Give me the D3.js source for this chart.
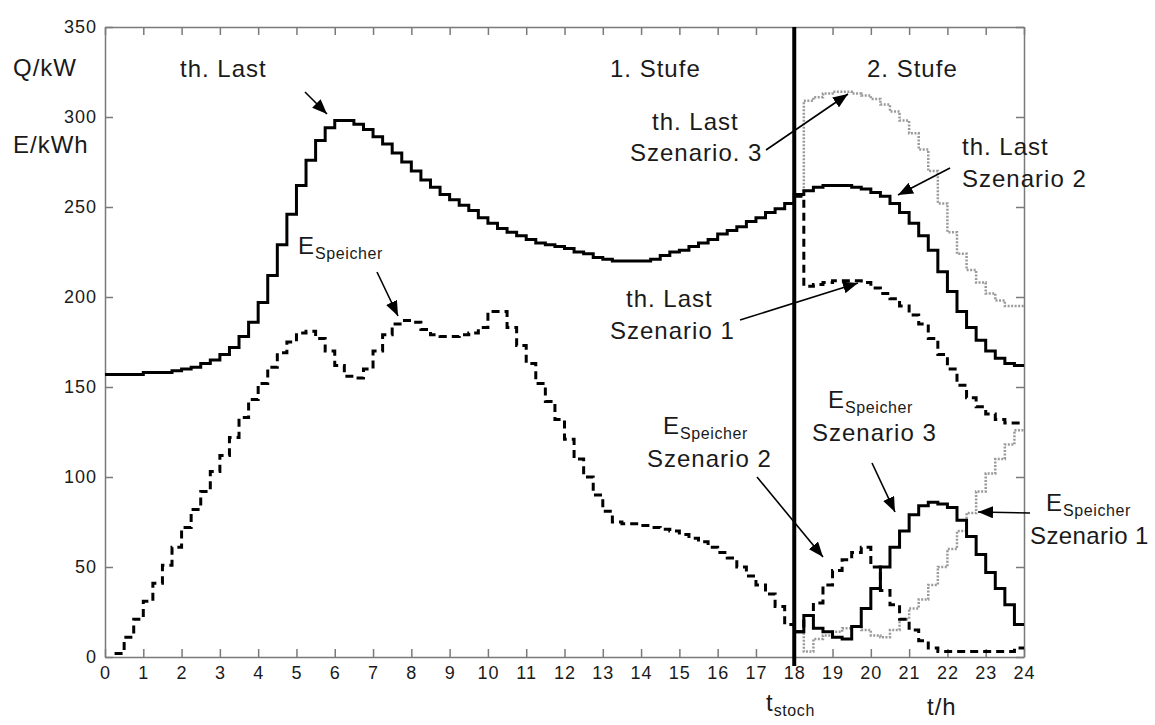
<!DOCTYPE html>
<html>
<head>
<meta charset="utf-8">
<title>th. Last und E Speicher</title>
<script src="https://cdn.jsdelivr.net/npm/d3@7"></script>
<style>
    body { margin: 0; background: #fff; }
    text { font-family: "Liberation Sans", Arial, sans-serif; fill: #1a1a1a; }
</style>
</head>
<body>
<svg id="chart" width="1155" height="725"></svg>
<script>
// Viertelstunden-Werte
const step = 0.25;
const xTicks = [0, 1, 2, 3, 4, 5, 6, 7, 8, 9, 10, 11, 12, 13, 14, 15, 16, 17, 18, 19, 20, 21, 22, 23, 24];
const yTicks = [0, 50, 100, 150, 200, 250, 300, 350];
const tStoch = 18;

// th. Last, 1. Stufe (ab 0 h)
const lastStufe1 = [
    157, 157, 157, 157, 158, 158, 158, 159, 160, 161, 163, 165,
    168, 172, 178, 186, 197, 212, 229, 246, 262, 276, 287, 294,
    298, 298, 296, 293, 289, 285, 280, 275, 270, 265, 261, 257,
    254, 251, 248, 244, 241, 238, 236, 234, 232, 230, 229, 228,
    227, 225, 224, 222, 221, 220, 220, 220, 220, 221, 223, 225,
    226, 228, 230, 232, 235, 237, 239, 242, 244, 247, 249, 252
];
// th. Last, 2. Stufe (ab 18 h)
const lastSzen1 = [256, 206, 207, 208, 209, 209, 209, 208, 205, 202, 199, 195,
                   190, 185, 177, 168, 160, 151, 144, 139, 135, 132, 130, 130];
const lastSzen2 = [257, 259, 261, 262, 262, 262, 261, 260, 258, 256, 252, 247,
                   241, 234, 226, 214, 203, 192, 183, 176, 170, 166, 163, 162];
const lastSzen3 = [256, 309, 311, 313, 314, 314, 313, 312, 310, 307, 303, 298,
                   291, 282, 270, 252, 236, 224, 215, 208, 202, 198, 195, 195];

// E Speicher, 1. Stufe (ab 0.25 h)
const speicherStufe1 = [
    2, 11, 21, 31, 41, 51, 61, 72, 82, 92, 103, 112,
    122, 133, 143, 152, 161, 169, 175, 180, 181, 177, 170, 162,
    156, 155, 160, 170, 179, 185, 187, 186, 182, 179, 178, 178,
    179, 180, 183, 192, 192, 183, 173, 163, 152, 142, 132, 121,
    110, 100, 90, 81, 75, 74, 74, 73, 72, 71, 70, 68,
    66, 64, 61, 58, 55, 50, 45, 40, 35, 28, 18
];
// E Speicher, 2. Stufe (ab 18 h)
const speicherSzen1 = [14, 3, 10, 12, 14, 16, 17, 15, 12, 11, 15, 21,
                       27, 32, 40, 50, 60, 70, 80, 92, 102, 110, 118, 126];
const speicherSzen2 = [14, 23, 30, 40, 48, 54, 58, 61, 50, 37, 29, 21,
                       15, 9, 5, 3, 3, 3, 3, 3, 3, 3, 3, 5];
const speicherSzen3 = [14, 23, 16, 14, 11, 10, 17, 27, 38, 50, 61, 70,
                       79, 84, 86, 85, 83, 76, 67, 57, 47, 38, 29, 18];

const svg = d3.select("#chart");
const x = d3.scaleLinear().domain([0, 24]).range([105, 1024]);
const y = d3.scaleLinear().domain([0, 350]).range([657, 27]);

function stairs(vals, t0) {
    const p = vals.map((v, i) => [t0 + i * step, v]);
    p.push([t0 + vals.length * step, vals[vals.length - 1]]);
    return p;
}
const line = d3.line().x(d => x(d[0])).y(d => y(d[1])).curve(d3.curveStepAfter);

// Achsen
const axisColor = "#7a7a7a";
function styleAxis(g) {
    g.selectAll("path, line").attr("stroke", axisColor).attr("stroke-width", 1.5);
    g.selectAll("text").style("font-size", "18px").style("letter-spacing", "1px")
        .attr("fill", "#222").style("font-family", "'Liberation Sans', Arial, sans-serif");
}
svg.append("g").attr("transform", `translate(0,${y(0)})`)
    .call(d3.axisBottom(x).tickValues(xTicks).tickSize(-8).tickSizeOuter(0).tickPadding(9))
    .call(styleAxis);
svg.append("g").attr("transform", `translate(0,${y(350)})`)
    .call(d3.axisTop(x).tickValues(xTicks).tickSize(-8).tickSizeOuter(0).tickFormat(""))
    .call(styleAxis);
svg.append("g").attr("transform", `translate(${x(0)},0)`)
    .call(d3.axisLeft(y).tickValues(yTicks).tickSize(-8).tickSizeOuter(0).tickPadding(8))
    .call(styleAxis);
svg.append("g").attr("transform", `translate(${x(24)},0)`)
    .call(d3.axisRight(y).tickValues(yTicks).tickSize(-8).tickSizeOuter(0).tickFormat(""))
    .call(styleAxis);

// Kurven
const curves = [
    {pts: stairs(lastSzen3, 18), color: "#9a9a9a", width: 2.5, dash: "2,1.5"},
    {pts: stairs(speicherSzen1, 18), color: "#9a9a9a", width: 2.5, dash: "2,1.5"},
    {pts: stairs(lastSzen1, 18), color: "#000", width: 3, dash: "8,5"},
    {pts: stairs(speicherStufe1, 0.25).concat(stairs(speicherSzen2, 18)), color: "#000", width: 3, dash: "8,5"},
    {pts: stairs(lastStufe1, 0).concat(stairs(lastSzen2, 18)), color: "#000", width: 3, dash: null},
    {pts: stairs(speicherSzen3, 18), color: "#000", width: 3, dash: null}
];
svg.selectAll("path.curve").data(curves).enter().append("path")
    .attr("class", "curve")
    .attr("d", d => line(d.pts))
    .attr("fill", "none")
    .attr("stroke", d => d.color)
    .attr("stroke-width", d => d.width)
    .attr("stroke-dasharray", d => d.dash)
    .attr("stroke-linejoin", "miter");

// t_stoch Linie
svg.append("line")
    .attr("x1", x(tStoch)).attr("x2", x(tStoch))
    .attr("y1", y(0) + 9).attr("y2", y(350))
    .attr("stroke", "#000").attr("stroke-width", 4);

// Pfeile
svg.append("defs").append("marker")
    .attr("id", "arrow").attr("markerUnits", "userSpaceOnUse")
    .attr("markerWidth", 16).attr("markerHeight", 12)
    .attr("refX", 15).attr("refY", 6).attr("orient", "auto")
    .append("path").attr("d", "M0,0 L15,6 L0,12 Z").attr("fill", "#000");

const arrows = [
    [305, 92, 327, 114],
    [377, 272, 398, 316],
    [766, 150, 848, 94],
    [950, 168, 898, 195],
    [740, 320, 858, 283],
    [757, 477, 823, 557],
    [872, 463, 895, 512],
    [1030, 513, 978, 512]
];
svg.selectAll("line.arrow").data(arrows).enter().append("line")
    .attr("class", "arrow")
    .attr("x1", d => d[0]).attr("y1", d => d[1])
    .attr("x2", d => d[2]).attr("y2", d => d[3])
    .attr("stroke", "#000").attr("stroke-width", 1.6)
    .attr("marker-end", "url(#arrow)");

// Beschriftungen
const labels = [
    {x: 13, y: 76, t: "Q/kW"},
    {x: 13, y: 153, t: "E/kWh"},
    {x: 180, y: 77, t: "th. Last"},
    {x: 610, y: 77, t: "1. Stufe"},
    {x: 867, y: 77, t: "2. Stufe"},
    {x: 652, y: 130, t: "th. Last"},
    {x: 630, y: 161, t: "Szenario. 3"},
    {x: 962, y: 155, t: "th. Last"},
    {x: 962, y: 187, t: "Szenario 2"},
    {x: 626, y: 307, t: "th. Last"},
    {x: 610, y: 339, t: "Szenario 1"},
    {x: 298, y: 254, t: "E", sub: "Speicher"},
    {x: 663, y: 434, t: "E", sub: "Speicher"},
    {x: 647, y: 467, t: "Szenario 2"},
    {x: 828, y: 408, t: "E", sub: "Speicher"},
    {x: 812, y: 441, t: "Szenario 3"},
    {x: 1046, y: 511, t: "E", sub: "Speicher"},
    {x: 1030, y: 544, t: "Szenario 1", ls: 0.4},
    {x: 766, y: 711, t: "t", sub: "stoch"},
    {x: 927, y: 715, t: "t/h"}
];
labels.forEach(l => {
    const txt = svg.append("text")
        .attr("x", l.x).attr("y", l.y)
        .style("font-size", "24px").style("letter-spacing", (l.ls != null ? l.ls : 1) + "px");
    txt.append("tspan").text(l.t);
    if (l.sub) {
        txt.append("tspan").attr("dy", 5).style("font-size", "16px").style("letter-spacing", "0.6px").text(l.sub);
    }
});
</script>
</body>
</html>
